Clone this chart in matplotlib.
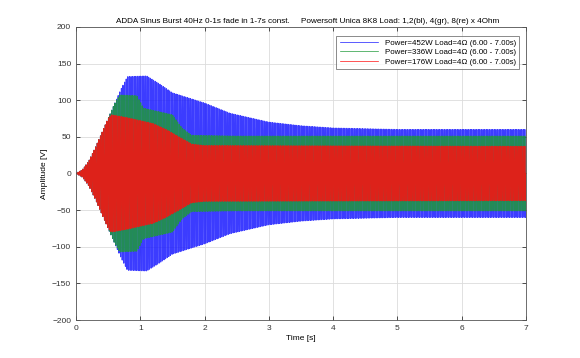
import numpy as np
import matplotlib
matplotlib.use("Agg")
import matplotlib.pyplot as plt

plt.rcParams['font.family'] = ['Liberation Sans', 'DejaVu Sans']

# Sine burst carrier frequency (from title) and duration
freq_hz = 40.0
duration_s = 7.0

# Envelope keypoints (time [s], amplitude [V])
blue_t = [0.0, 0.1, 0.2, 0.3, 0.4, 0.5, 0.6, 0.7, 0.8, 1.1, 1.3, 1.5, 1.75, 2.0, 2.4, 3.0, 3.5, 4.0, 5.0, 6.0, 7.0]
blue_a = [0.0, 5, 17, 35, 55, 75, 95, 115, 132, 133, 122, 110, 103, 96, 82, 70, 65, 62, 60, 60, 60]

green_t = [0.0, 0.1, 0.2, 0.3, 0.4, 0.5, 0.6, 0.68, 0.95, 1.05, 1.3, 1.5, 1.65, 1.8, 2.5, 7.0]
green_a = [0.0, 5, 17, 35, 55, 75, 95, 107, 106, 89, 84, 80, 62, 52, 51, 51]

red_t = [0.0, 0.1, 0.2, 0.3, 0.4, 0.5, 0.55, 0.8, 1.0, 1.2, 1.4, 1.6, 1.8, 2.0, 7.0]
red_a = [0.0, 5, 17, 35, 55, 75, 80, 76, 72, 68, 60, 50, 40, 38, 37]

labels = ["Power=452W Load=4\u03a9 (6.00 - 7.00s)",
          "Power=336W Load=4\u03a9 (6.00 - 7.00s)",
          "Power=176W Load=4\u03a9 (6.00 - 7.00s)"]
colors = ["#1a1aff", "#1f9a3a", "#ff1010"]

title = ("ADDA Sinus Burst 40Hz 0-1s fade in 1-7s const.     "
         "Powersoft Unica 8K8 Load: 1,2(bl), 4(gr), 8(re) x 4Ohm")

t = np.linspace(0, duration_s, int(duration_s * freq_hz * 100) + 1)
carrier = np.sin(2 * np.pi * freq_hz * t)

fig = plt.figure(figsize=(5.8, 3.58), dpi=100)
ax = fig.add_axes([0.131, 0.106, 0.776, 0.819])

handles = []
for (et, ea), c, lab in zip([(blue_t, blue_a), (green_t, green_a), (red_t, red_a)], colors, labels):
    env = np.interp(t, et, ea)
    ax.plot(t, env * carrier, color=c, lw=0.75, alpha=0.85)
    handles.append(plt.Line2D([], [], color=c, lw=0.5, label=lab))

ax.set_xlim(0, 7)
ax.set_ylim(-200, 200)
ax.set_xticks(range(0, 8))
ax.set_yticks(range(-200, 201, 50))
ax.grid(True, color="#dcdcdc", lw=0.6)
ax.set_axisbelow(True)
ax.tick_params(direction="in", length=3, labelsize=6, top=True, right=True, width=0.6, colors="#333333")
for s in ax.spines.values():
    s.set_linewidth(0.6)
    s.set_color("#555555")
ax.set_xlabel("Time [s]", fontsize=6, labelpad=2)
ax.set_ylabel("Amplitude [V]", fontsize=6, labelpad=3)
ax.set_title(title, fontsize=5.9, pad=3, x=0.515)

leg = ax.legend(handles=handles, loc="upper right", fontsize=5.7, frameon=True, fancybox=False,
                edgecolor="#555555", borderaxespad=0.6, handlelength=4.8,
                labelspacing=0.25, borderpad=0.4, handletextpad=0.9,
                bbox_to_anchor=(0.995, 0.985))
leg.get_frame().set_linewidth(0.6)

fig.savefig("out.png", dpi=100)
